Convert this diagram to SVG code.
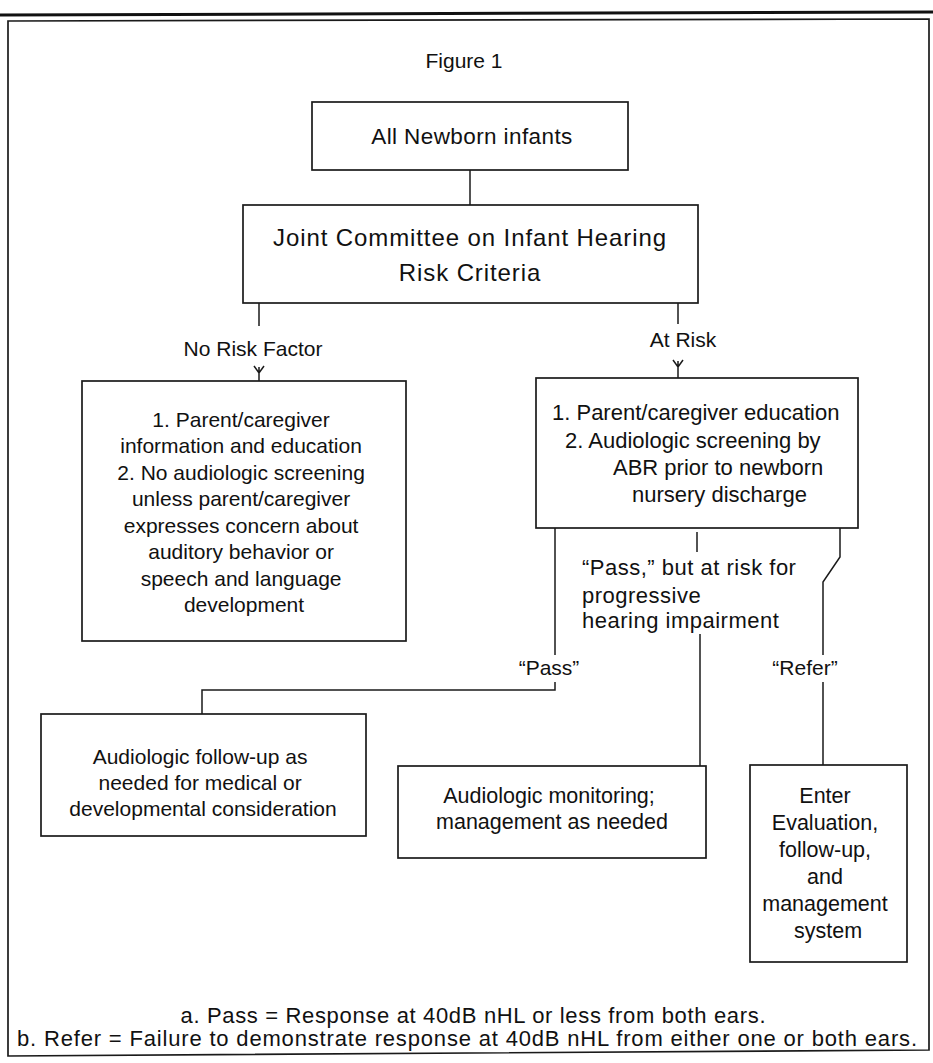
<svg xmlns="http://www.w3.org/2000/svg" width="933" height="1063" viewBox="0 0 933 1063">
<style>
.box{fill:none;stroke:#1a1a1a;stroke-width:1.7}
.ln{fill:none;stroke:#1a1a1a;stroke-width:1.5}
.t{font-family:"Liberation Sans",Arial,sans-serif;fill:#111;text-anchor:middle}
.tl{font-family:"Liberation Sans",Arial,sans-serif;fill:#111}
</style>
<rect width="933" height="1063" fill="#fff"/>
<g id="frame">
<line x1="0" y1="15" x2="933" y2="12" stroke="#111" stroke-width="3"/>
<path class="box" d="M8 21 L929 19 L929 1050 L8 1056 Z"/>
<text class="t" x="464" y="68" font-size="21">Figure 1</text>
</g>
<g id="connectors">
<line class="ln" x1="470" y1="170" x2="470" y2="205"/>
<line class="ln" x1="259" y1="303" x2="259" y2="326"/>
<path class="ln" d="M254 366 L259 373 L264 366 M259 367 V381"/>
<line class="ln" x1="678" y1="303" x2="678" y2="324"/>
<path class="ln" d="M673 360 L678 367 L683 360 M678 361 V378"/>
<path class="ln" d="M555 528 V655 M555 682 V690 H202 V714"/>
<line class="ln" x1="697" y1="532" x2="697" y2="552"/>
<line class="ln" x1="700" y1="634" x2="700" y2="766"/>
<path class="ln" d="M840 528 V557 L823 582 V655 M823 682 V765"/>
<text class="t" x="549" y="675" font-size="21">“Pass”</text>
<text class="t" x="805" y="675" font-size="21">“Refer”</text>
<text class="t" x="253" y="356" font-size="21">No Risk Factor</text>
<text class="t" x="683" y="347" font-size="21">At Risk</text>
<text class="tl" x="582" y="575" font-size="22" letter-spacing="0.5">“Pass,” but at risk for</text>
<text class="tl" x="582" y="603" font-size="22" letter-spacing="0.5">progressive</text>
<text class="tl" x="582" y="628" font-size="22" letter-spacing="0.5">hearing impairment</text>
</g>
<g id="node-all-newborn">
<rect class="box" x="312" y="102" width="316" height="68"/>
<text class="t" x="472" y="144" font-size="22.5" letter-spacing="0.4">All Newborn infants</text>
</g>
<g id="node-joint-committee">
<rect class="box" x="243" y="205" width="455" height="98"/>
<text class="t" x="470" y="246" font-size="24" letter-spacing="0.9">Joint Committee on Infant Hearing</text>
<text class="t" x="470" y="281" font-size="24" letter-spacing="0.9">Risk Criteria</text>
</g>
<g id="node-no-risk">
<rect class="box" x="82" y="381" width="324" height="260"/>
<text class="t" font-size="21">
<tspan x="244" y="427">1.  Parent/caregiver</tspan>
<tspan x="244" y="453">information and education</tspan>
<tspan x="244" y="480">2.  No audiologic screening</tspan>
<tspan x="244" y="506">unless parent/caregiver</tspan>
<tspan x="244" y="533">expresses concern about</tspan>
<tspan x="244" y="559">auditory behavior or</tspan>
<tspan x="244" y="586">speech and language</tspan>
<tspan x="244" y="612">development</tspan>
</text>
</g>
<g id="node-at-risk">
<rect class="box" x="536" y="378" width="322" height="150"/>
<text class="tl" font-size="22">
<tspan x="552" y="420">1.  Parent/caregiver education</tspan>
<tspan x="565" y="448">2.  Audiologic screening by</tspan>
<tspan x="613" y="475">ABR prior to newborn</tspan>
<tspan x="632" y="502">nursery discharge</tspan>
</text>
</g>
<g id="node-followup">
<rect class="box" x="41" y="714" width="325" height="122"/>
<text class="t" font-size="21">
<tspan x="203" y="764">Audiologic follow-up as</tspan>
<tspan x="203" y="790">needed for medical or</tspan>
<tspan x="203" y="816">developmental consideration</tspan>
</text>
</g>
<g id="node-monitoring">
<rect class="box" x="398" y="766" width="308" height="92"/>
<text class="t" font-size="21.5">
<tspan x="552" y="803">Audiologic monitoring;</tspan>
<tspan x="552" y="829">management as needed</tspan>
</text>
</g>
<g id="node-enter">
<rect class="box" x="750" y="765" width="157" height="197"/>
<text class="t" font-size="21.5">
<tspan x="828" y="803">Enter</tspan>
<tspan x="828" y="830">Evaluation,</tspan>
<tspan x="828" y="857">follow-up,</tspan>
<tspan x="828" y="884">and</tspan>
<tspan x="828" y="911">management</tspan>
<tspan x="828" y="938">system</tspan>
</text>
</g>
<g id="footnotes">
<text class="t" x="473" y="1023" font-size="22" textLength="585">a. Pass = Response at 40dB nHL or less from both ears.</text>
<text class="t" x="467" y="1046" font-size="22" textLength="900">b. Refer = Failure to demonstrate response at 40dB nHL from either one or both ears.</text>
</g>
</svg>
